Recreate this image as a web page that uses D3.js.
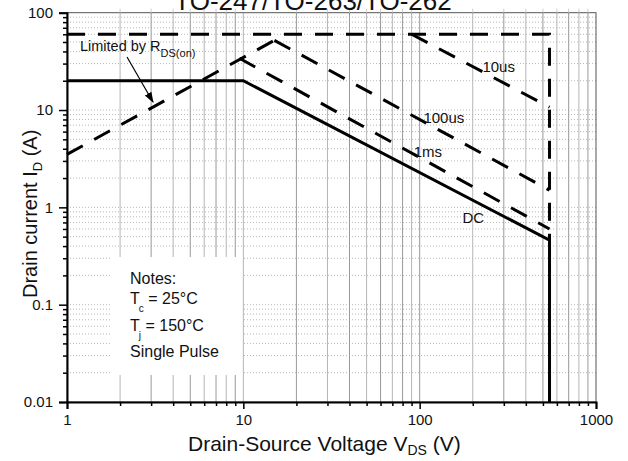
<!DOCTYPE html>
<html>
<head>
<meta charset="utf-8">
<script src="https://cdn.jsdelivr.net/npm/d3@7"></script>
<style>
  body { margin: 0; background: #fff; }
  svg { display: block; font-family: Arial, "Liberation Sans", sans-serif; }
</style>
</head>
<body>
<svg id="chart" width="628" height="461"></svg>
<script>
// Valori (SOA, scala log-log)
const xTicks = [1, 10, 100, 1000];
const yTicks = [0.01, 0.1, 1, 10, 100];

// DC (linea continua)
const dcV = [1, 10, 545, 545];
const dcI = [20, 20, 0.46, 0.01];
// limite esterno (tratteggio): 60 A e tensione massima
const limV = [1, 545, 545];
const limI = [60, 60, 0.46];
// limitato da RDS(on)
const rdsV = [1, 15];
const rdsI = [3.5, 52];
// impulsi
const us10V = [90, 545];
const us10I = [60, 10.7];
const us100V = [15, 545];
const us100I = [52, 1.5];
const ms1V = [9.5, 545];
const ms1I = [34, 0.6];

// posizione delle etichette (V, A) del punto di base del testo
const curveLabels = [
  { text: "10us", v: 227, i: 24.6 },
  { text: "100us", v: 105, i: 7.35 },
  { text: "1ms", v: 92.5, i: 3.3 },
  { text: "DC", v: 175, i: 0.69 }
];

const margin = { top: 12.7, right: 32, bottom: 59, left: 67 };
const width = 628 - margin.left - margin.right;
const height = 461 - margin.top - margin.bottom;

const svg = d3.select("#chart");
const g = svg.append("g").attr("transform", `translate(${margin.left},${margin.top})`);

const x = d3.scaleLog().domain([1, 1000]).range([0, width]);
const y = d3.scaleLog().domain([0.01, 100]).range([height, 0]);

// valori minori per griglia e tacche
function minors(lo, hi) {
  const out = [];
  for (let e = Math.round(Math.log10(lo)); e < Math.round(Math.log10(hi)); e++) {
    for (let m = 1; m < 10; m++) out.push(+(m * Math.pow(10, e)).toPrecision(3));
  }
  out.push(hi);
  return out;
}
const xAll = minors(1, 1000);
const yAll = minors(0.01, 100);
const isMajor = (d, list) => list.some(t => Math.abs(t - d) < t * 1e-6);

// griglia orizzontale puntinata
g.append("g").selectAll("line")
  .data(yAll.filter(d => d > 0.01 && d < 100))
  .join("line")
  .attr("x1", 0).attr("x2", width)
  .attr("y1", d => y(d)).attr("y2", d => y(d))
  .attr("stroke", "#b8b8b8").attr("stroke-width", 1)
  .attr("stroke-dasharray", "1,2");

// griglia verticale continua
g.append("g").selectAll("line")
  .data(xAll.filter(d => d > 1 && d < 1000))
  .join("line")
  .attr("x1", d => x(d)).attr("x2", d => x(d))
  .attr("y1", 0).attr("y2", height)
  .attr("stroke", (d, i) => i % 2 ? "#999" : "#b5b5b5").attr("stroke-width", 1);

// riquadro note (copre la griglia)
g.append("rect")
  .attr("x", 112 - margin.left).attr("y", 257 - margin.top)
  .attr("width", 130).attr("height", 118)
  .attr("fill", "#fff");

// cornice
g.append("rect").attr("x", 0).attr("y", 0).attr("width", width).attr("height", height)
  .attr("fill", "none").attr("stroke", "#555").attr("stroke-width", 1);

// tacche superiori (chiare)
g.append("g").selectAll("line")
  .data(xAll.filter(d => !isMajor(d, xTicks)))
  .join("line")
  .attr("x1", d => x(d)).attr("x2", d => x(d))
  .attr("y1", 0).attr("y2", -4)
  .attr("stroke", "#ccc");

// assi
const xAxis = g.append("g").attr("transform", `translate(0,${height})`)
  .call(d3.axisBottom(x).tickValues(xAll)
    .tickFormat(d => isMajor(d, xTicks) ? d3.format("d")(d) : "")
    .tickSize(7).tickPadding(5));
xAxis.selectAll(".tick line").filter(d => !isMajor(d, xTicks)).attr("y2", 4);

const yAxis = g.append("g")
  .call(d3.axisLeft(y).tickValues(yAll)
    .tickFormat(d => isMajor(d, yTicks) ? (d >= 1 ? d3.format("d")(d) : String(d)) : "")
    .tickSize(8).tickPadding(6));
yAxis.selectAll(".tick line").filter(d => !isMajor(d, yTicks)).attr("x2", -4);

[xAxis, yAxis].forEach(a => {
  a.select(".domain").attr("stroke", "#000").attr("stroke-width", 2);
  a.selectAll(".tick line").attr("stroke", "#000").attr("stroke-width", 1.5);
  a.selectAll(".tick text").attr("font-size", 15).attr("fill", "#111")
    .attr("font-family", "Arial, 'Liberation Sans', sans-serif");
});

// curve
const line = d3.line().x(d => x(d[0])).y(d => y(d[1]));
const zip = (a, b) => a.map((v, i) => [v, b[i]]);

const curves = [
  { pts: zip(limV, limI), dash: "18,13" },
  { pts: zip(rdsV, rdsI), dash: "18,13" },
  { pts: zip(us10V, us10I), dash: "18,13" },
  { pts: zip(us100V, us100I), dash: "18,13" },
  { pts: zip(ms1V, ms1I), dash: "18,13" },
  { pts: zip(dcV, dcI), dash: null }
];
g.append("g").selectAll("path")
  .data(curves)
  .join("path")
  .attr("d", d => line(d.pts))
  .attr("fill", "none")
  .attr("stroke", "#000")
  .attr("stroke-width", 3)
  .attr("stroke-dasharray", d => d.dash);

// etichette delle curve
g.append("g").selectAll("text")
  .data(curveLabels)
  .join("text")
  .attr("x", d => x(d.v)).attr("y", d => y(d.i))
  .attr("font-size", 15).attr("fill", "#111")
  .text(d => d.text);

// etichetta RDS(on) con freccia
svg.append("defs").append("marker")
  .attr("id", "arrow").attr("viewBox", "0 0 10 10")
  .attr("refX", 9).attr("refY", 5)
  .attr("markerWidth", 9).attr("markerHeight", 9)
  .attr("orient", "auto")
  .append("path").attr("d", "M0,1.5L10,5L0,8.5Z").attr("fill", "#000");

const lim = svg.append("text").attr("x", 80).attr("y", 51).attr("font-size", 14.5).attr("fill", "#111");
lim.append("tspan").text("Limited by R");
lim.append("tspan").attr("font-size", 11).attr("dy", 6).text("DS(on)");

svg.append("line")
  .attr("x1", 127).attr("y1", 57).attr("x2", 153).attr("y2", 102)
  .attr("stroke", "#000").attr("stroke-width", 1.2)
  .attr("marker-end", "url(#arrow)");

// note
const notes = svg.append("g").attr("font-size", 16).attr("fill", "#111");
notes.append("text").attr("x", 130).attr("y", 284).text("Notes:");
const tc = notes.append("text").attr("x", 130).attr("y", 304);
tc.append("tspan").text("T");
tc.append("tspan").attr("font-size", 10).attr("dy", 8).attr("dx", -1).text("c");
tc.append("tspan").attr("dy", -8).text(" = 25°C");
const tj = notes.append("text").attr("x", 130).attr("y", 331);
tj.append("tspan").text("T");
tj.append("tspan").attr("font-size", 10).attr("dy", 8).attr("dx", -1).text("j");
tj.append("tspan").attr("dy", -8).text(" = 150°C");
notes.append("text").attr("x", 130).attr("y", 357).text("Single Pulse");

// titoli degli assi
const xt = svg.append("text").attr("x", 188).attr("y", 451).attr("font-size", 21).attr("fill", "#111");
xt.append("tspan").text("Drain-Source Voltage V");
xt.append("tspan").attr("font-size", 14).attr("dy", 4).text("DS");
xt.append("tspan").attr("dy", -4).text(" (V)");

const yt = svg.append("text")
  .attr("transform", "translate(37,298) rotate(-90)")
  .attr("font-size", 20).attr("fill", "#111");
yt.append("tspan").text("Drain current I");
yt.append("tspan").attr("font-size", 13).attr("dy", 5).text("D");
yt.append("tspan").attr("dy", -5).text(" (A)");

// titolo (tagliato in alto come nell'originale)
svg.append("text")
  .attr("x", 313).attr("y", 10)
  .attr("text-anchor", "middle")
  .attr("font-size", 26).attr("fill", "#111")
  .text("TO-247/TO-263/TO-262");
</script>
</body>
</html>
